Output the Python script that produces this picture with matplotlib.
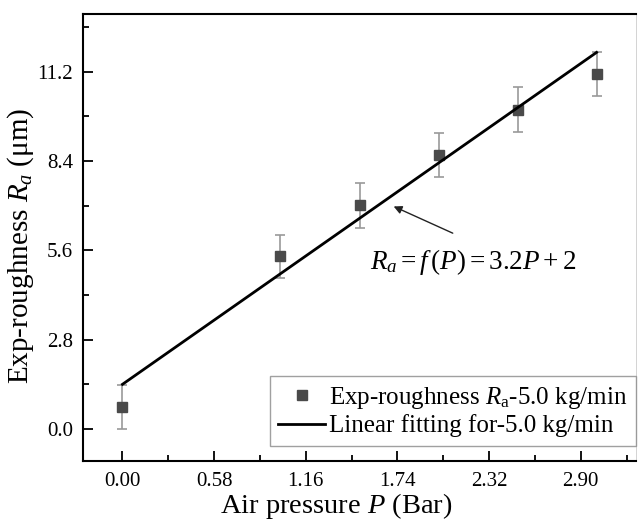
import matplotlib
matplotlib.use("Agg")
import matplotlib.pyplot as plt
from matplotlib.lines import Line2D
import numpy as np

# Data
pressure = [0.0, 1.0, 1.5, 2.0, 2.5, 3.0]
roughness = [0.69, 5.41, 7.01, 8.60, 10.01, 11.11]
roughness_err = [0.70, 0.67, 0.70, 0.69, 0.70, 0.69]
fit_x = [0.0, 3.0]
fit_y = [1.40, 11.80]
xticks = [0.00, 0.58, 1.16, 1.74, 2.32, 2.90]
yticks = [0.0, 2.8, 5.6, 8.4, 11.2]

plt.rcParams['font.family'] = ['Liberation Serif', 'DejaVu Serif']
plt.rcParams['mathtext.fontset'] = 'custom'
plt.rcParams['mathtext.rm'] = 'Liberation Serif'
plt.rcParams['mathtext.it'] = 'Liberation Serif:italic'

fig = plt.figure(figsize=(6.38, 5.22), dpi=100)
ax = fig.add_axes([0.130, 0.117, 0.867, 0.856])

marker_color = '#4a4a4a'
ax.errorbar(pressure, roughness, yerr=roughness_err, fmt='s', color=marker_color,
            ecolor='#999999', elinewidth=1.2, capsize=3.3, capthick=1.2,
            markersize=7, zorder=3)
ln, = ax.plot(fit_x, fit_y, color='black', lw=2.0, zorder=4)

ax.set_xlim(-0.25, 3.25)
ax.set_ylim(-1.0, 13.0)
ax.set_xticks(xticks)
ax.set_xticklabels([f'{v:.2f}' for v in xticks])
ax.set_yticks(yticks)
ax.set_yticklabels([f'{v:.1f}' for v in yticks])
ax.set_xticks(np.arange(0.29, 3.25, 0.58), minor=True)
ax.set_yticks([1.4, 4.2, 7.0, 9.8, 12.6], minor=True)
ax.tick_params(which='both', direction='in', labelsize=15, width=1.3)
ax.tick_params(which='major', length=7)
ax.tick_params(which='minor', length=4)
ax.tick_params(axis='x', pad=8)
ax.tick_params(axis='y', pad=7)
ax.tick_params(top=False, right=False)

for s in ['left', 'bottom', 'top']:
    ax.spines[s].set_linewidth(1.5)
ax.spines['right'].set_linewidth(0.6)
ax.spines['right'].set_color('#cccccc')

ax.set_xlabel(r'Air pressure $P$ (Bar)', fontsize=20.5)
ax.set_ylabel(r'Exp-roughness $R_a$ ($\mathrm{\mu}$m)', fontsize=21)
ax.xaxis.set_label_coords(0.4575, -0.1163)
ax.xaxis.label.set_va('baseline')
ax.yaxis.set_label_coords(-0.112, 0.481)
ax.yaxis.label.set_va('center')

ax.annotate('', xy=(1.70, 7.01), xytext=(2.106, 6.10),
            arrowprops=dict(arrowstyle='-|>', color='#222222', lw=1.0, mutation_scale=12))
ax.text(2.22, 5.22, r'$R_a = f\,(P) = 3.2P + 2$', fontsize=19.5, ha='center', va='center')

proxy = Line2D([], [], ls='none', marker='s', color=marker_color, markersize=7)
leg = ax.legend([proxy, ln],
                [r'Exp-roughness $R_{\mathrm{a}}$-5.0 kg/min', 'Linear fitting for-5.0 kg/min'],
                loc='lower right', bbox_to_anchor=(0.999, 0.034), fontsize=18,
                frameon=True, fancybox=False,
                edgecolor='#888888', borderpad=0.33, handlelength=1.9, handletextpad=0.15,
                labelspacing=0.15, borderaxespad=0.0)
leg.get_frame().set_linewidth(1.0)

fig.savefig('out.png', dpi=100)
